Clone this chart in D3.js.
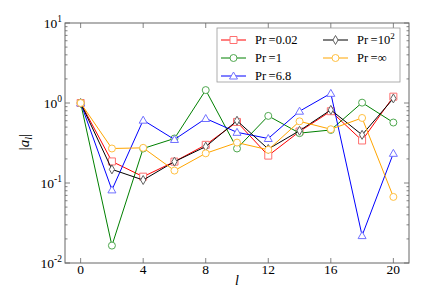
<!DOCTYPE html>
<html>
<head>
<meta charset="utf-8">
<script src="https://cdn.jsdelivr.net/npm/d3@7"></script>
<style>
body{margin:0;background:#fff;}
</style>
</head>
<body>
<div id="canvas"></div>
<script>
const ls = [0, 2, 4, 6, 8, 10, 12, 14, 16, 18, 20];
const pr002 = [1.0, 0.186, 0.12, 0.185, 0.30, 0.58, 0.22, 0.44, 0.79, 0.34, 1.2];
const pr1 = [1.0, 0.0165, 0.27, 0.36, 1.45, 0.27, 0.69, 0.42, 0.46, 1.01, 0.57];
const pr68 = [1.0, 0.082, 0.61, 0.35, 0.64, 0.43, 0.36, 0.79, 1.32, 0.022, 0.235];
const pr100 = [1.0, 0.148, 0.109, 0.185, 0.285, 0.60, 0.266, 0.45, 0.82, 0.40, 1.14];
const prInf = [1.0, 0.27, 0.275, 0.143, 0.235, 0.32, 0.26, 0.59, 0.47, 0.65, 0.067];
const xTicks = [0, 4, 8, 12, 16, 20];
const yTicks = [0.01, 0.1, 1, 10];

const series = [
  {name: "Pr\u2009=0.02", values: pr002, color: "#ff0000", mark: "#ff7070", shape: "square"},
  {name: "Pr\u2009=1", values: pr1, color: "#008000", mark: "#50a850", shape: "circle"},
  {name: "Pr\u2009=6.8", values: pr68, color: "#0000ff", mark: "#7070ff", shape: "triangle"},
  {name: "Pr\u2009=10", sup: "2", values: pr100, color: "#000000", mark: "#606060", shape: "diamond"},
  {name: "Pr\u2009=\u221e", values: prInf, color: "#ffa500", mark: "#ffc040", shape: "circle"}
];

const FONT = "'Liberation Serif', 'DejaVu Serif', serif";
const width = 424, height = 304;
const margin = {top: 23, left: 65, bottom: 41, right: 15};
const iwidth = width - margin.left - margin.right;
const iheight = height - margin.top - margin.bottom;

const svg = d3.select("#canvas").append("svg").attr("width", width).attr("height", height)
  .attr("font-family", FONT);
const g = svg.append("g").attr("transform", `translate(${margin.left},${margin.top})`);

const x = d3.scaleLinear().domain([-1, 21]).range([0, iwidth]);
const y = d3.scaleLog().domain([0.01, 10]).range([iheight, 0]);

const axisColor = "#666";

// minor y ticks
const minor = [];
[0.01, 0.1, 1].forEach(d => { for (let k = 2; k <= 9; k++) minor.push(d * k); });

function tickMarks(sel, xs, len, isX) {
  xs.forEach(v => {
    if (isX) {
      sel.append("line").attr("x1", x(v)).attr("x2", x(v)).attr("y1", iheight).attr("y2", iheight - len);
      sel.append("line").attr("x1", x(v)).attr("x2", x(v)).attr("y1", 0).attr("y2", len);
    } else {
      sel.append("line").attr("y1", y(v)).attr("y2", y(v)).attr("x1", 0).attr("x2", len);
      sel.append("line").attr("y1", y(v)).attr("y2", y(v)).attr("x1", iwidth).attr("x2", iwidth - len);
    }
  });
}
const ticks = g.append("g").attr("stroke", axisColor).attr("stroke-width", 0.8);
tickMarks(ticks, xTicks, 5, true);
tickMarks(ticks, yTicks, 5, false);
tickMarks(ticks, minor, 2.5, false);

g.append("rect").attr("width", iwidth).attr("height", iheight)
  .attr("fill", "none").attr("stroke", axisColor).attr("stroke-width", 1);

// tick labels
g.selectAll(".xl").data(xTicks).enter().append("text")
  .attr("x", d => x(d)).attr("y", iheight + 11).attr("text-anchor", "middle")
  .attr("font-size", 13.5).attr("fill", "#000").text(d => d);

const yl = g.selectAll(".yl").data(yTicks).enter().append("text")
  .attr("x", -3).attr("y", d => y(d) + 5).attr("text-anchor", "end")
  .attr("font-size", 13.5).attr("fill", "#000");
yl.append("tspan").text("10");
yl.append("tspan").attr("dy", -6).attr("font-size", 9.5).text(d => Math.round(Math.log10(d)));

// axis labels
g.append("text").attr("x", x(10)).attr("y", iheight + 22).attr("text-anchor", "middle")
  .attr("font-size", 14).attr("font-style", "italic").text("l");
g.append("text").attr("transform", `translate(-36,${iheight / 2 - 1}) rotate(-90)`)
  .attr("text-anchor", "middle").attr("font-size", 15)
  .html('|<tspan font-style="italic">a</tspan><tspan font-style="italic" font-size="10" dy="3">l</tspan><tspan dy="-3">|</tspan>');

function drawMarker(sel, shape, color, cx, cy) {
  let p;
  if (shape === "circle") {
    sel.append("circle").attr("cx", cx).attr("cy", cy).attr("r", 3.5)
      .attr("fill", "#fff").attr("stroke", color);
    return;
  } else if (shape === "square") {
    p = "M-3.5,-3.5H3.5V3.5H-3.5Z";
  } else if (shape === "triangle") {
    p = "M0,-4L4,3H-4Z";
  } else {
    p = "M0,-4.5L2.6,0L0,4.5L-2.6,0Z";
  }
  sel.append("path").attr("d", p).attr("transform", `translate(${cx},${cy})`)
    .attr("fill", "#fff").attr("stroke", color);
}

const line = d3.line().x((d, i) => x(ls[i])).y(d => y(d));
series.forEach(s => {
  const sg = g.append("g");
  sg.append("path").datum(s.values).attr("d", line)
    .attr("fill", "none").attr("stroke", s.color).attr("stroke-width", 1);
  s.values.forEach((v, i) => drawMarker(sg, s.shape, s.mark, x(ls[i]), y(v)));
});

// legend
const lg = svg.append("g").attr("transform", "translate(217,28)");
lg.append("rect").attr("width", 183).attr("height", 54).attr("fill", "#fff")
  .attr("stroke", "#999").attr("stroke-width", 0.8);
const pos = [[0, 0], [0, 1], [0, 2], [1, 0], [1, 1]];
series.forEach((s, i) => {
  const cx = 4 + pos[i][0] * 102, cy = 12 + pos[i][1] * 18;
  lg.append("line").attr("x1", cx).attr("x2", cx + 25).attr("y1", cy).attr("y2", cy)
    .attr("stroke", s.color).attr("stroke-width", 1);
  drawMarker(lg, s.shape, s.mark, cx + 12.5, cy);
  const t = lg.append("text").attr("x", cx + 34).attr("y", cy + 4).attr("font-size", 12.5).text(s.name);
  if (s.sup) t.append("tspan").attr("dy", -5).attr("font-size", 9).text(s.sup);
});
</script>
</body>
</html>
